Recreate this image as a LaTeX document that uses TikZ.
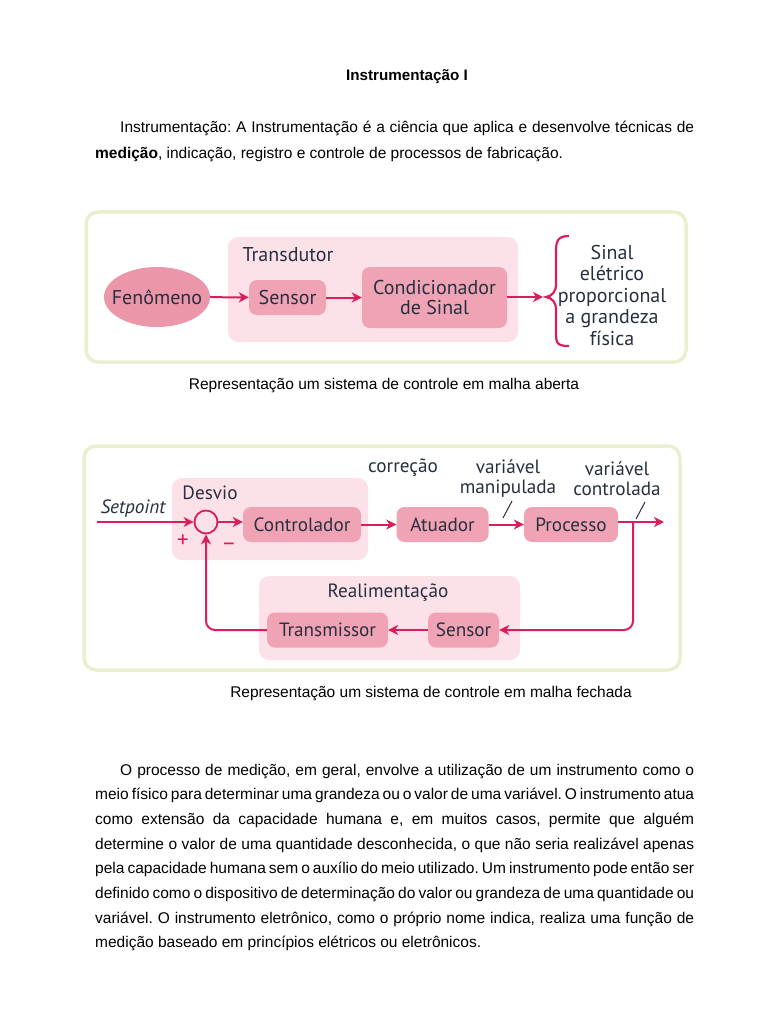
\documentclass[tikz,border=0pt]{standalone}
\usepackage{fontspec}
\setmainfont{Liberation Sans}
\newfontfamily\diag{PT Sans}
\usetikzlibrary{arrows.meta,calc,shapes.geometric}
\definecolor{framec}{HTML}{EBEFCF}
\definecolor{contc}{HTML}{FCE1E8}
\definecolor{boxc}{HTML}{EFA3B4}
\definecolor{ellc}{HTML}{EC96AA}
\definecolor{arrc}{HTML}{DC1D5C}
\definecolor{txtc}{HTML}{27303F}
\newcommand\dfa{\diag\fontsize{20}{21}\selectfont}
\newcommand\dfb{\diag\fontsize{19.2}{21}\selectfont}
\tikzset{
  frame/.style={draw=framec,line width=3.5pt,fill=white,rounded corners=12pt},
  cont/.style={fill=contc,rounded corners=10pt},
  pbox/.style={fill=boxc,rounded corners=8pt,text=txtc,font=\dfb,align=center,inner sep=0pt},
  lbl/.style={text=txtc,font=\dfb,align=center,inner sep=0pt},
  arr/.style={draw=arrc,line width=2pt,-{Stealth[length=10pt,width=10pt,inset=3pt]}},
  ln/.style={draw=arrc,line width=2pt},
  body/.style={anchor=base west,inner sep=0pt,font=\fontsize{15.5}{18}\selectfont,text=black}
}
\begin{document}
\frenchspacing
\begin{tikzpicture}[x=1pt,y=-1pt]
\useasboundingbox (0,0) rectangle (768,1024);
\fill[white] (0,0) rectangle (768,1024);
% text
\node[body,anchor=base,font=\bfseries\fontsize{15.2}{18}\selectfont] (title) at (407,81) {Instrumentação I};
\node[body] (t1) at (120,133) {\makebox[574pt][s]{Instrumentação: A Instrumentação é a ciência que aplica e desenvolve técnicas de}};
\node[body] (t2) at (95,159) {\textbf{medição}, indicação, registro e controle de processos de fabricação.};
% ---------- diagram 1
\draw[frame] (86,212) rectangle (686,362);
\fill[cont] (228,237) rectangle (518,342);
\node[lbl,font=\dfa] (transd) at (288,255) {Transdutor};
\node[ellipse,fill=ellc,minimum width=106pt,minimum height=60pt,text=txtc,font=\dfa,inner xsep=-16pt,inner ysep=0pt] (fen) at (157,297) {Fenômeno};
\node[pbox,font=\dfa,minimum width=77pt,minimum height=35pt] (sens1) at (287.5,297.5) {Sensor};
\node[pbox,font=\dfa,minimum width=145pt,minimum height=61pt] (cond) at (434.5,297.5) {Condicionador\\[-0.5pt]de Sinal};
\draw[arr] (fen) -- (sens1);
\draw[arr] (sens1) -- (cond);
\coordinate (bt) at (543,297);
\draw[arr] (cond.east |- bt) -- (bt);
\draw[ln,line width=2.2pt] (569,236) .. controls (557,236) and (556,242) .. (556,252) -- (556,284) .. controls (556,292) and (552,296) .. (546,297) .. controls (552,298) and (556,302) .. (556,310) -- (556,333) .. controls (556,343) and (557,346) .. (569,346);
\node[lbl,font=\diag\fontsize{20}{21.5}\selectfont] (sinal) at (612,295) {Sinal\\elétrico\\proporcional\\a grandeza\\física};
\node[body,anchor=base] (cap1) at (384,389) {Representação um sistema de controle em malha aberta};
% ---------- diagram 2
\draw[frame] (84,446) rectangle (680,670);
\fill[cont] (172,478) rectangle (368,560);
\fill[cont] (259,576) rectangle (520,660);
\node[lbl] (desvio) at (210,493) {Desvio};
\node[lbl,font=\diag\itshape\fontsize{19.2}{21}\selectfont] (setp) at (133,509) {Setpoint};
\node[circle,draw=arrc,line width=1.8pt,minimum size=23pt,inner sep=0pt] (sum) at (206,522) {};
\node[lbl,text=arrc,font=\diag\fontsize{23}{23}\selectfont] (plus) at (183,541) {+};
\node[lbl,text=arrc,font=\diag\fontsize{23}{23}\selectfont] (minus) at (229,547) {–};
\node[pbox,minimum width=118pt,minimum height=35pt] (ctrl) at (302,524.5) {Controlador};
\node[pbox,minimum width=92pt,minimum height=35pt] (atu) at (442.5,524.5) {Atuador};
\node[pbox,minimum width=94pt,minimum height=35pt] (proc) at (571,524.5) {Processo};
\node[lbl] (corr) at (403,468) {correção};
\node[lbl] (vm) at (508,479) {variável\\[-1pt]manipulada};
\node[lbl] (vc) at (617,479) {variável\\[-1pt]controlada};
\node[lbl] (realim) at (388,593) {Realimentação};
\node[pbox,minimum width=71pt,minimum height=35pt] (sens2) at (463.5,630) {Sensor};
\node[pbox,minimum width=121pt,minimum height=35pt] (trans) at (327.5,630) {Transmissor};
\coordinate (sp) at (97,522);
\coordinate (out) at (664,522);
\coordinate (fb) at (633,522);
\draw[arr] (sp) -- (sum.west);
\draw[arr] (sum.east) -- (ctrl.west |- sum);
\draw[arr] (ctrl.east |- atu) -- (atu.west);
\draw[arr] (atu.east |- proc) -- (proc.west);
\draw[arr] (proc.east |- out) -- (out);
\draw[arr,rounded corners=9pt] (fb) -- (fb |- sens2) -- (sens2.east);
\draw[arr] (sens2.west) -- (trans.east);
\draw[arr,rounded corners=9pt] (trans.west) -- (sum |- trans) -- (sum.south);
\draw[draw=txtc,line width=1pt] (503,518) -- (512,501);
\draw[draw=txtc,line width=1pt] (636,519) -- (645,502);
\node[body,anchor=base] (cap2) at (431,697) {Representação um sistema de controle em malha fechada};
% ---------- paragraph
\node[body] (p1) at (120,775) {\makebox[574pt][s]{O processo de medição, em geral, envolve a utilização de um instrumento como o}};
\node[body] (p2) at (95,799.7) {\makebox[599pt][s]{meio físico para determinar uma grandeza ou o valor de uma variável. O instrumento atua}};
\node[body] (p3) at (95,824.4) {\makebox[599pt][s]{como extensão da capacidade humana e, em muitos casos, permite que alguém}};
\node[body] (p4) at (95,849.1) {\makebox[599pt][s]{determine o valor de uma quantidade desconhecida, o que não seria realizável apenas}};
\node[body] (p5) at (95,873.8) {\makebox[599pt][s]{pela capacidade humana sem o auxílio do meio utilizado. Um instrumento pode então ser}};
\node[body] (p6) at (95,898.5) {\makebox[599pt][s]{definido como o dispositivo de determinação do valor ou grandeza de uma quantidade ou}};
\node[body] (p7) at (95,923.2) {\makebox[599pt][s]{variável. O instrumento eletrônico, como o próprio nome indica, realiza uma função de}};
\node[body] (p8) at (95,947.9) {medição baseado em princípios elétricos ou eletrônicos.};
\end{tikzpicture}
\end{document}
